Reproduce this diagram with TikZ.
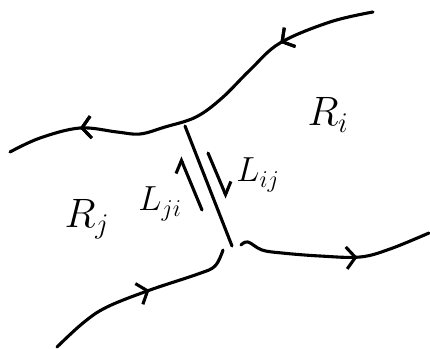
\documentclass[tikz,border=0pt]{standalone}
\usetikzlibrary{arrows.meta,decorations.markings}
\tikzset{
  stroke/.style={line width=3.1pt,line cap=round,line join=round},
  midarrow/.style={postaction={decorate},decoration={markings,
      mark=at position #1 with {\arrow{Straight Barb[length=9pt,width=22pt]}}}},
  harp/.style={stroke,-{Straight Barb[left,length=10pt,width=20pt]}},
  lbl/.style={inner sep=0pt}
}
\newcommand{\bigtxt}[1]{\scalebox{1.65}{\fontsize{25}{27}\selectfont #1}}
\newcommand{\smalltxt}[1]{\scalebox{1.4}{\fontsize{25}{27}\selectfont #1}}
\begin{document}
\begin{tikzpicture}[x=1pt,y=-1pt]
\useasboundingbox (0,0) rectangle (430,348);
% top curve, running from the upper right to the left edge
\draw[stroke,midarrow=98pt,midarrow=330pt] plot[smooth,tension=0.6] coordinates {
  (373,12) (330,22) (280,43) (250,70) (222,98) (196,117)
  (165,127) (140,134) (117,132) (80,128) (40,138) (10,152)};
% bottom right curve
\draw[stroke,midarrow=120pt] plot[smooth,tension=0.6] coordinates {
  (241,245) (248,242) (262,250) (282,253) (320,256) (360,257) (390,249) (429,233)};
% bottom left curve
\draw[stroke,midarrow=110pt] plot[smooth,tension=0.6] coordinates {
  (57,347) (83,323) (107,307) (150,290) (198,274) (215,266) (223,250)};
% separating line
\coordinate (c1) at (185,126);
\coordinate (c2) at (232,246);
\draw[stroke] (c1) -- (c2);
% harpoons
\coordinate (a1) at (202,210);
\coordinate (a2) at (180,157);
\coordinate (b1) at (208,153);
\coordinate (b2) at (227,198);
\draw[harp] (a1) -- (a2);
\draw[harp] (b1) -- (b2);
% labels
\node[lbl] (Ri) at (328,115) {\bigtxt{$R_i$}};
\node[lbl] (Rj) at (87,219) {\bigtxt{$R_j$}};
\node[lbl] (Lji) at (160,204) {\smalltxt{$L_{ji}$}};
\node[lbl] (Lij) at (258,175) {\smalltxt{$L_{ij}$}};
\end{tikzpicture}
\end{document}
